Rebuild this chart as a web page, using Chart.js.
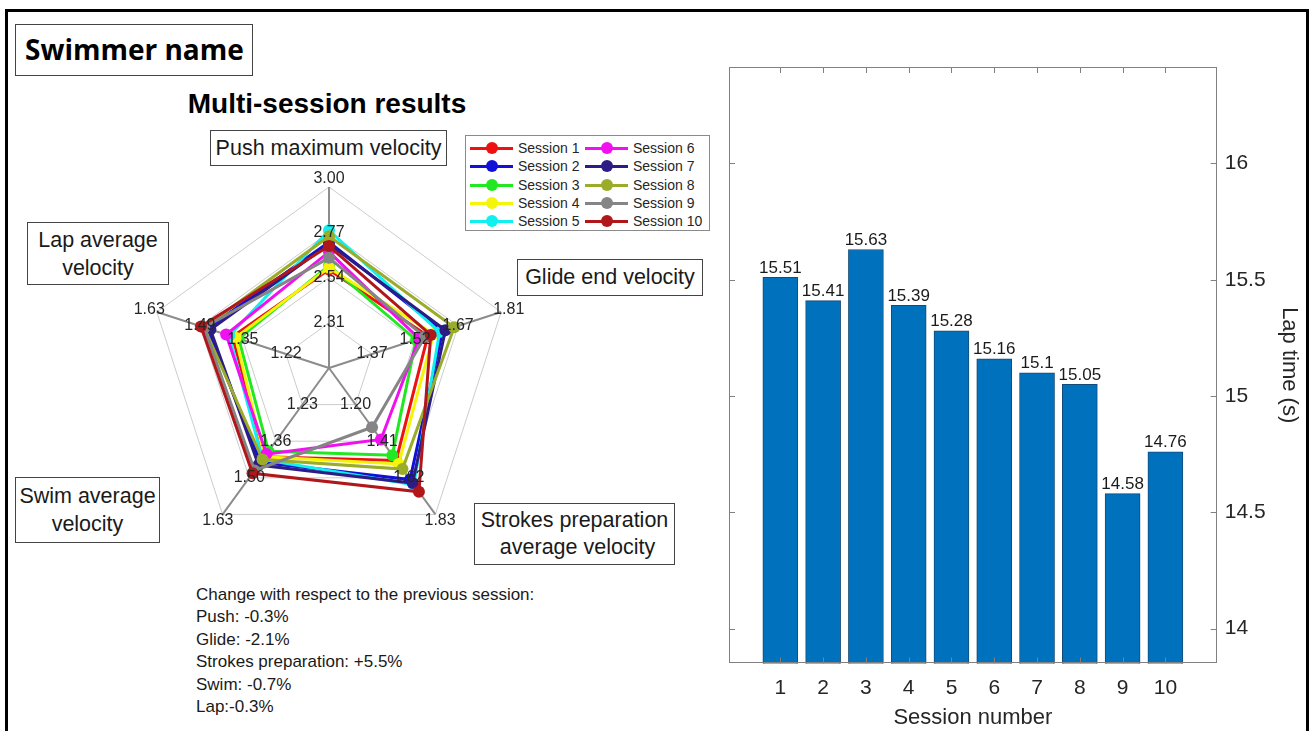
<!DOCTYPE html>
<html><head><meta charset="utf-8">
<script src="https://cdn.jsdelivr.net/npm/chart.js@4.4.1/dist/chart.umd.min.js"></script>
<style>
html,body{margin:0;padding:0;background:#fff;}
body{width:1312px;height:731px;position:relative;overflow:hidden;font-family:"Liberation Sans",Arial,sans-serif;color:#1a1a1a;}
.frame{position:absolute;left:5px;top:9px;width:1298px;height:760px;border:3px solid #000;}
.box{position:absolute;border:1px solid #444;background:#fff;box-sizing:border-box;text-align:center;font-size:21.5px;color:#1a1a1a;white-space:nowrap;}
#legend{position:absolute;left:465px;top:135px;width:245px;height:96px;border:1px solid #8a8a8a;box-sizing:border-box;background:#fff;}
.li{position:absolute;height:14px;font-size:14px;line-height:14px;color:#262626;white-space:nowrap;}
.ln{position:absolute;top:6px;width:43px;height:3px;}
.mk{position:absolute;top:1px;width:12px;height:12px;border-radius:50%;}
#notes{position:absolute;left:196px;top:584px;font-size:17px;line-height:22.4px;color:#1a1a1a;}
canvas{position:absolute;}
</style></head><body>
<div class="frame"></div>
<div class="box" style="left:15px;top:24px;width:238px;height:52px;text-align:left;padding-left:9px;font-family:'Open Sans',sans-serif;font-weight:700;font-size:28px;line-height:48px;color:#000;">Swimmer name</div>
<div style="position:absolute;left:127px;width:400px;top:88px;text-align:center;font-weight:700;font-size:28px;color:#000;">Multi-session results</div>
<div class="box" style="left:210px;top:130px;width:237px;height:36px;line-height:34px;">Push maximum velocity</div>
<div class="box" style="left:27px;top:222px;width:142px;height:63px;line-height:28px;padding-top:3px;">Lap average<br>velocity</div>
<div class="box" style="left:517px;top:259px;width:186px;height:37px;line-height:35px;">Glide end velocity</div>
<div class="box" style="left:15px;top:477px;width:145px;height:66px;line-height:28px;padding-top:4px;">Swim average<br>velocity</div>
<div class="box" style="left:474px;top:503px;width:201px;height:62px;line-height:27px;padding-top:3px;">Strokes preparation<br>&nbsp;average velocity</div>
<div id="legend"></div>
<div id="notes">Change with respect to the previous session:<br>Push: -0.3%<br>Glide: -2.1%<br>Strokes preparation: +5.5%<br>Swim: -0.7%<br>Lap:-0.3%</div>
<canvas id="radar" width="458" height="458" style="left:100px;top:139px;"></canvas>
<canvas id="bars" width="612" height="691" style="left:700px;top:40px;"></canvas>
<script>
// ---- data ----
const sessions = [1,2,3,4,5,6,7,8,9,10];
const sessionNames = ['Session 1','Session 2','Session 3','Session 4','Session 5','Session 6','Session 7','Session 8','Session 9','Session 10'];
const sessionColors = ['#ee1111','#1010d8','#22e822','#f5f50a','#10f0f0','#f010f0','#2c1c86','#9aac28','#858585','#b0161a'];
const axisNames = ['Push maximum velocity','Glide end velocity','Strokes preparation average velocity','Swim average velocity','Lap average velocity'];
const pushTicks = [2.31,2.54,2.77,3.00];
const glideTicks = [1.37,1.52,1.67,1.81];
const strokesTicks = [1.20,1.41,1.62,1.83];
const swimTicks = [1.23,1.36,1.50,1.63];
const lapTicks = [1.22,1.35,1.49,1.63];
const pushVel    = [2.58,2.72,2.60,2.59,2.78,2.67,2.71,2.75,2.64,2.70];
const glideVel   = [1.56,1.61,1.52,1.58,1.60,1.53,1.62,1.65,1.55,1.57];
const strokesVel = [1.52,1.63,1.49,1.54,1.66,1.40,1.65,1.57,1.33,1.70];
const swimVel    = [1.42,1.44,1.40,1.42,1.43,1.41,1.45,1.43,1.47,1.48];
const lapVel     = [1.39,1.47,1.37,1.38,1.40,1.41,1.46,1.48,1.48,1.49];
const lapTimes = [15.51,15.41,15.63,15.39,15.28,15.16,15.1,15.05,14.58,14.76];
const lapTimeTicks = [14,14.5,15,15.5,16];

const axisTicks = [pushTicks,glideTicks,strokesTicks,swimTicks,lapTicks];
const axisValues = [pushVel,glideVel,strokesVel,swimVel,lapVel];
const norm = (v,t) => 1 + 3*(v - t[0])/(t[t.length-1]-t[0]);

// ---- legend (HTML) ----
const lg = document.getElementById('legend');
sessionNames.forEach((n,i)=>{
  const col = i<5?0:1, row = i%5;
  const d = document.createElement('div');
  d.className='li';
  d.style.left = (col? 119:4)+'px';
  d.style.top = (5 + row*18.3)+'px';
  d.innerHTML = `<span class="ln" style="left:0;background:${sessionColors[i]}"></span><span class="mk" style="left:16px;background:${sessionColors[i]}"></span><span style="position:absolute;left:48px;top:0">${n}</span>`;
  lg.appendChild(d);
});

// ---- radar ----
const radarLabels = {
  id:'radarLabels',
  afterDatasetsDraw(chart){
    const s = chart.scales.r, ctx = chart.ctx;
    ctx.save();
    ctx.font = '16px "Liberation Sans"';
    ctx.fillStyle = '#262626';
    ctx.textAlign='center'; ctx.textBaseline='middle';
    axisTicks.forEach((tk,i)=>{
      tk.forEach((t,k)=>{
        const extra = k===tk.length-1 ? 8 : 0;
        const p = s.getPointPosition(i, s.getDistanceFromCenterForValue(k+1)+extra);
        ctx.fillText(t.toFixed(2), p.x, p.y);
      });
    });
    ctx.restore();
  }
};
new Chart(document.getElementById('radar'),{
  type:'radar',
  data:{
    labels: axisNames,
    datasets: sessionNames.map((n,i)=>({
      label:n,
      data: axisValues.map((vals,a)=>norm(vals[i],axisTicks[a])),
      borderColor: sessionColors[i],
      backgroundColor: sessionColors[i],
      pointBackgroundColor: sessionColors[i],
      pointBorderWidth:0,
      pointRadius:6,
      borderWidth:3,
      fill:false,
      tension:0,
      order: sessions.length - i
    }))
  },
  options:{
    responsive:false, animation:false, devicePixelRatio:1,
    layout:{padding:48},
    plugins:{legend:{display:false},tooltip:{enabled:false}},
    scales:{r:{
      min:0,max:4,startAngle:0,
      ticks:{display:false,stepSize:1},
      grid:{color:'#cccccc',lineWidth:1},
      angleLines:{color:'#8c8c8c',lineWidth:2},
      pointLabels:{display:false}
    }}
  },
  plugins:[radarLabels]
});

// ---- bars ----
const barDeco = {
  id:'barDeco',
  afterDatasetsDraw(chart){
    const {ctx, chartArea:a, scales:{x,y}} = chart;
    ctx.save();
    ctx.strokeStyle='#808080'; ctx.lineWidth=1;
    ctx.strokeRect(Math.round(a.left)+0.5, Math.round(a.top)+0.5, Math.round(a.right-a.left)-1, Math.round(a.bottom-a.top)-1);
    ctx.beginPath();
    x.ticks.forEach(t=>{
      const px = Math.round(x.getPixelForValue(t.value))+0.5;
      ctx.moveTo(px,a.bottom); ctx.lineTo(px,a.bottom-6);
      ctx.moveTo(px,a.top); ctx.lineTo(px,a.top+6);
    });
    y.ticks.forEach(t=>{
      const py = Math.round(y.getPixelForValue(t.value))+0.5;
      ctx.moveTo(a.left,py); ctx.lineTo(a.left+6,py);
      ctx.moveTo(a.right,py); ctx.lineTo(a.right-6,py);
    });
    ctx.stroke();
    ctx.fillStyle='#1a1a1a';
    ctx.font='17px "Liberation Sans"';
    ctx.textAlign='center'; ctx.textBaseline='bottom';
    chart.getDatasetMeta(0).data.forEach((bar,i)=>{
      ctx.fillText(String(lapTimes[i]), bar.x, bar.y-1);
    });
    ctx.restore();
  }
};
new Chart(document.getElementById('bars'),{
  type:'bar',
  data:{datasets:[{
    data: sessions.map((s,i)=>({x:s,y:lapTimes[i]})),
    backgroundColor:'#0072BD',
    borderColor:'#144a78',
    borderWidth:1,
    barThickness:35
  }]},
  options:{
    responsive:false, animation:false, devicePixelRatio:1,
    layout:{padding:{left:29,top:27,right:8,bottom:0}},
    plugins:{legend:{display:false},tooltip:{enabled:false}},
    scales:{
      x:{type:'linear',min:-0.2,max:11.2,offset:false,
        afterBuildTicks:sc=>{sc.ticks = sessions.map(v=>({value:v}));},
        grid:{display:false,tickLength:8},border:{display:false},
        ticks:{padding:4,color:'#262626',font:{family:'Liberation Sans',size:21},callback:v=>String(v),maxRotation:0},
        title:{display:true,text:'Session number',color:'#262626',font:{family:'Liberation Sans',size:22},padding:{top:0,bottom:0}}
      },
      y:{type:'linear',position:'right',min:13.85,max:16.415,
        afterBuildTicks:sc=>{sc.ticks = lapTimeTicks.map(v=>({value:v}));},
        grid:{display:false,tickLength:8},border:{display:false},
        ticks:{padding:0,color:'#262626',font:{family:'Liberation Sans',size:21},callback:v=>String(v)},
        title:{display:true,text:'Lap time (s)',color:'#262626',font:{family:'Liberation Sans',size:22},padding:{top:2,bottom:10}}
      }
    }
  },
  plugins:[barDeco]
});
</script>
</body></html>
